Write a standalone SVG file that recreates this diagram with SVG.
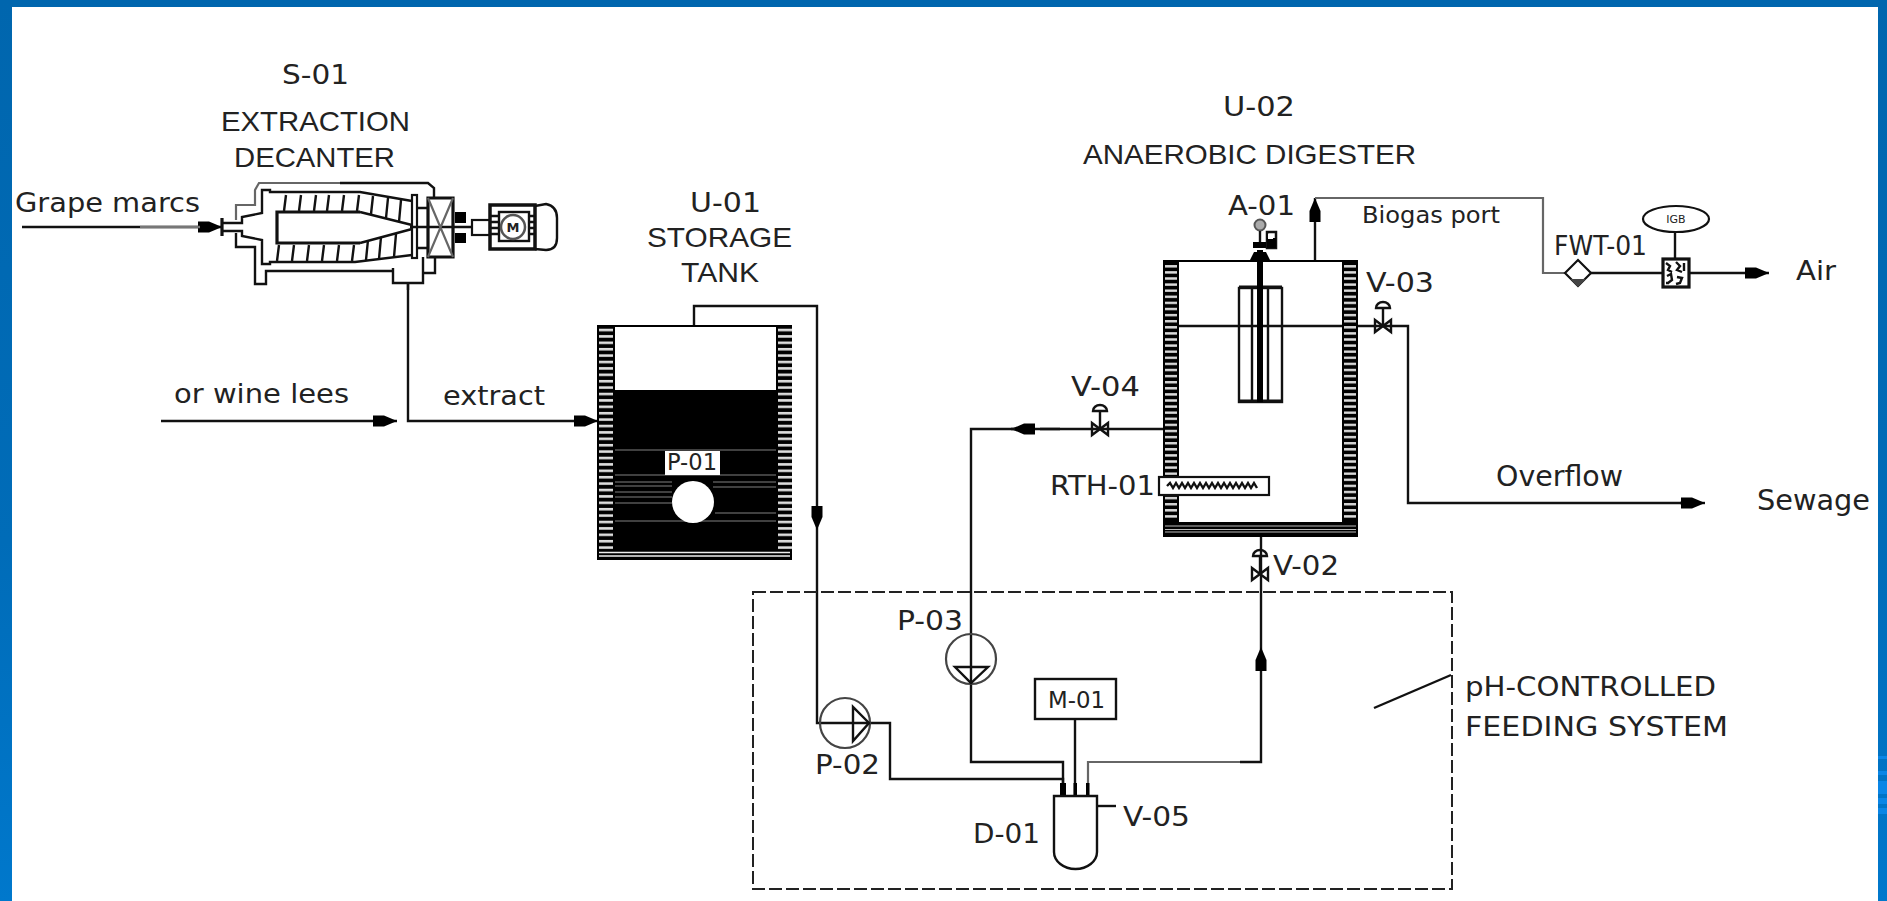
<svg xmlns="http://www.w3.org/2000/svg" width="1887" height="901" viewBox="0 0 1887 901">
<style>
text{fill:#222;font-family:"DejaVu Sans",Verdana,sans-serif}
.a{font-family:"Liberation Sans",Arial,sans-serif}
.t26{font-size:27px}.t24{font-size:26px}.t27{font-size:28px}
.l{fill:none;stroke:#111;stroke-width:2.4}
.h{fill:none;stroke:#111;stroke-width:3.2}
.g{fill:none;stroke:#666;stroke-width:2.2}
.w{fill:#fff;stroke:#111;stroke-width:2.2}
.k{fill:#000}
.ar{marker-end:url(#arrow)}
</style>
<defs>
<linearGradient id="bg" x1="0" y1="0" x2="0" y2="1"><stop offset="0" stop-color="#0066ae"/><stop offset="0.6" stop-color="#006cb8"/><stop offset="1" stop-color="#0078cc"/></linearGradient>
<pattern id="hatchA" width="14" height="6.4" patternUnits="userSpaceOnUse" y="0.5"><rect width="14" height="6.4" fill="#000"/><rect y="1.8" width="14" height="2.6" fill="#ddd"/></pattern>
<pattern id="hatchB" width="13" height="6.1" patternUnits="userSpaceOnUse" y="1"><rect width="13" height="6.1" fill="#000"/><rect y="1.8" width="13" height="2.4" fill="#ddd"/></pattern>
<marker id="arrow" markerUnits="userSpaceOnUse" markerWidth="24" markerHeight="14" refX="24" refY="7" orient="auto"><path d="M0,1.500 L11,1.500 L24,7 L11,12.500 L0,12.500 Z" fill="#000"/></marker>
<g id="valve-sym"><path class="l" d="M-8,-6 L8,6 L8,-6 L-8,6 Z"/><path class="l" d="M0,0 L0,-18 M-7,-18 A7,6 0 0 1 7,-18 Z"/></g>
</defs>
<rect width="1887" height="901" fill="url(#bg)"/>
<rect x="12" y="7" width="1866" height="894" fill="#fff"/>
<g id="band-streaks" fill="#0a86e6">
<rect x="1878" y="756" width="9" height="3"/><rect x="1878" y="771" width="9" height="4"/><rect x="1878" y="781" width="9" height="13"/><rect x="1878" y="798" width="9" height="6"/><rect x="1878" y="808" width="9" height="6"/>
</g>

<g id="connectors">
<path class="l ar" d="M22,227 L222,227"/>
<path d="M140,227 L200,227" stroke="#777" stroke-width="2.400" fill="none"/>
<path class="l" d="M408,283 L408,421 L580,421"/>
<path class="l ar" d="M575,421 L598,421"/>
<path class="l ar" d="M161,421 L397,421"/>
<path class="l ar" d="M694,325 L694,306 L817,306 L817,530"/>
<path class="l" d="M817,530 L817,723 L890,723 L890,779 L1063,779 L1063,795"/>
<path class="l" d="M1163,429 L1040,429"/>
<path class="l ar" d="M1060,429 L1011,429"/>
<path class="l" d="M1015,429 L971,429 L971,762 L1063,762 L1063,795"/>
<path class="l" d="M1075,719 L1075,795"/>
<path class="g" d="M1088,795 L1088,762 L1261,762"/>
<path class="l" d="M1240,762 L1261,762 L1261,700"/>
<path class="l ar" d="M1261,700 L1261,647"/>
<path class="l" d="M1261,647 L1261,537"/>
<path class="l ar" d="M1315,260 L1315,198"/>
<path class="g" d="M1315,198 L1543,198 L1543,273 L1565,273"/>
<path class="l" d="M1591,273 L1662,273"/>
<path class="l ar" d="M1690,273 L1769,273"/>
<path class="l" d="M1179,326 L1408,326 L1408,503 L1690,503"/>
<path class="l ar" d="M1680,503 L1705,503"/>
<path class="l" d="M1374,708 L1451,675"/>
<path class="l" d="M1097,806 L1116,806"/>
<rect class="k" x="1060" y="783" width="6" height="12"/><rect class="k" x="1073.500" y="783" width="3.500" height="12"/><rect class="k" x="1086" y="783" width="3.500" height="12"/>
</g>

<g id="S-01">
<text class="t26" x="282" y="84" textLength="67" lengthAdjust="spacingAndGlyphs">S-01</text>
<text class="a t27" x="221" y="131" textLength="189" lengthAdjust="spacingAndGlyphs">EXTRACTION</text>
<text class="a t27" x="234" y="167" textLength="161" lengthAdjust="spacingAndGlyphs">DECANTER</text>
<path class="g" d="M236,220 L236,205 L255,205 L255,190 L259,183 L340,183"/>
<path class="l" d="M340,183 L428,183 L434,188 L434,198"/>
<path class="l" d="M236,233 L236,247 L255,247 L255,284 L266,284 L266,271 L393,271"/>
<path class="l" d="M423,273 L435,273 L435,257"/>
<path class="l" d="M222,223 L242,223 L242,217 L262,213 L262,190 L270,190 L270,192 L360,192 L412,201"/>
<path class="l" d="M222,231 L242,231 L242,236 L262,240 L262,264 L270,264 L270,262 L355,262 L412,255"/>
<path class="h" d="M222,218 L222,236"/>
<path class="h" d="M360,212 L277,212 L277,243 L360,243"/>
<path class="l" d="M360,212 L412,225 M360,243 L412,229"/>
<path class="l" d="M286,195 L284,211 M301,195 L299,211 M316,195 L314,211 M329,195 L327,211 M344,195 L342,211 M359,195 L357,211 M373,196 L371,214 M388,198 L386,218 M401,200 L399,222"/>
<path class="l" d="M279,245 L277,261 M294,245 L292,261 M309,245 L307,261 M324,245 L322,261 M339,245 L337,261 M354,245 L352,261 M368,240 L366,260 M381,237 L379,259 M396,234 L394,257"/>
<rect class="w" x="412" y="195" width="5" height="63"/>
<path class="l" d="M417,208 L428,208 M417,248 L428,248 M410,227 L472,227"/>
<path class="l" d="M393,268 L393,283 L423,283 L423,257 M408,283 L408,290"/>
<path class="h" d="M428,198 L453,198 L453,257 L428,257 Z"/>
<path class="g" d="M428,198 L453,257 M453,198 L428,257"/>
<rect class="k" x="455" y="212" width="11" height="11"/><rect class="k" x="455" y="233" width="11" height="10"/>
<rect class="w" x="472" y="220" width="18" height="15"/>
<path class="l" d="M535,206 L546,204 Q557,206 557,218 L557,238 Q557,250 546,250 L535,249"/>
<rect x="490" y="205" width="45" height="44" fill="#fff" stroke="#111" stroke-width="3.500"/>
<rect class="l" x="499" y="212" width="30" height="29"/>
<path class="l" d="M491,216 L499,216 M491,222 L499,222 M491,228 L499,228 M491,234 L499,234 M529,216 L534,216 M529,222 L534,222 M529,228 L534,228 M529,234 L534,234"/>
<circle cx="513" cy="227" r="12" fill="#fff" stroke="#555" stroke-width="2.500"/>
<text x="513" y="232" font-size="13" text-anchor="middle" font-weight="bold">M</text>
</g>

<g id="feed-labels">
<text class="t24" x="15" y="212" textLength="185" lengthAdjust="spacingAndGlyphs">Grape marcs</text>
<text class="t24" x="174" y="403" textLength="175" lengthAdjust="spacingAndGlyphs">or wine lees</text>
<text class="t24" x="443" y="405" textLength="102" lengthAdjust="spacingAndGlyphs">extract</text>
</g>

<g id="U-01">
<text class="t26" x="690" y="212" textLength="71" lengthAdjust="spacingAndGlyphs">U-01</text>
<text class="a t27" x="647" y="247" textLength="145" lengthAdjust="spacingAndGlyphs">STORAGE</text>
<text class="a t27" x="681" y="282" textLength="78" lengthAdjust="spacingAndGlyphs">TANK</text>
<rect x="597" y="325" width="195" height="235" fill="#000"/>
<rect x="615" y="327" width="161" height="63" fill="#fff"/>
<rect x="599" y="327" width="14" height="223" fill="url(#hatchA)"/>
<rect x="778" y="327" width="14" height="223" fill="url(#hatchA)"/>
<path d="M599,552.500 H790 M599,556 H790" stroke="#eee" stroke-width="1.500"/>
<path d="M615,450 H776 M615,475 H776 M615,482 H672 M713,482 H776 M615,486 H672 M713,487 H776 M615,492 H672 M615,497 H672 M615,503 H672 M715,513 H776 M615,521 H776" stroke="#555" stroke-width="1.500"/>
<circle cx="693" cy="502" r="21" fill="#fff"/>
<rect x="665" y="451" width="55" height="24" fill="#fff"/>
<text x="667" y="470" font-size="23" textLength="50" lengthAdjust="spacingAndGlyphs">P-01</text>
</g>

<g id="U-02">
<text class="t26" x="1223" y="116" textLength="72" lengthAdjust="spacingAndGlyphs">U-02</text>
<text class="a t27" x="1083" y="164" textLength="333" lengthAdjust="spacingAndGlyphs">ANAEROBIC DIGESTER</text>
<text class="t26" x="1228" y="215" textLength="67" lengthAdjust="spacingAndGlyphs">A-01</text>
<path d="M1163,260 H1358 V537 H1163 Z M1179,262 V522 H1342 V262 Z" fill="#000" fill-rule="evenodd"/>
<rect x="1165" y="262" width="12" height="258" fill="url(#hatchB)"/>
<rect x="1344" y="262" width="12" height="258" fill="url(#hatchB)"/>
<path d="M1165,526 H1356 M1165,529.500 H1356 M1165,532 H1356" stroke="#bbb" stroke-width="1.200"/>
<rect class="l" x="1239" y="288" width="43" height="114"/>
<path class="h" d="M1239,287 H1282 M1239,401 H1282"/>
<path class="l" d="M1252,288 V402 M1268,288 V402"/>
<rect class="k" x="1257" y="250" width="6" height="152"/>
<path class="k" d="M1250,260 L1254,252 L1266,252 L1270,260 Z"/>
<circle cx="1260" cy="225" r="5.500" fill="#aaa" stroke="#555" stroke-width="2"/>
<path class="l" d="M1260,231 V245"/>
<rect x="1267" y="232" width="9" height="16" fill="#fff" stroke="#111" stroke-width="2.500"/>
<rect class="k" x="1253" y="242" width="13" height="6"/>
<rect class="k" x="1267" y="238" width="9" height="10"/>
<rect x="1268" y="234" width="5" height="5" fill="#fff"/>
</g>

<g id="RTH-01">
<text class="t26" x="1050" y="495" textLength="105" lengthAdjust="spacingAndGlyphs">RTH-01</text>
<rect class="w" x="1159" y="477" width="110" height="18"/>
<path class="l" d="M1167,486 l3,-3 3,5 3,-5 3,5 3,-5 3,5 3,-5 3,5 3,-5 3,5 3,-5 3,5 3,-5 3,5 3,-5 3,5 3,-5 3,5 3,-5 3,5 3,-5 3,5 3,-5 3,5 3,-5 3,5 3,-5 3,5 3,-5 3,5"/>
</g>

<g id="V-02">
<text class="t26" x="1273" y="575" textLength="66" lengthAdjust="spacingAndGlyphs">V-02</text>
<use href="#valve-sym" x="1260" y="574"/>
</g>
<g id="V-03">
<text class="t26" x="1366" y="292" textLength="68" lengthAdjust="spacingAndGlyphs">V-03</text>
<use href="#valve-sym" x="1383" y="326"/>
</g>
<g id="V-04">
<text class="t26" x="1071" y="396" textLength="69" lengthAdjust="spacingAndGlyphs">V-04</text>
<use href="#valve-sym" x="1100" y="429"/>
</g>
<g id="V-05">
<text class="t26" x="1123" y="826" textLength="67" lengthAdjust="spacingAndGlyphs">V-05</text>
</g>

<g id="FWT-01">
<text class="t24" x="1554" y="255" textLength="93" lengthAdjust="spacingAndGlyphs">FWT-01</text>
<path class="w" d="M1565,273 L1578,260 L1591,273 L1578,286 Z"/>
<path d="M1570,279 H1586 L1578,287 Z" fill="#444"/>
</g>
<g id="IGB">
<ellipse class="w" cx="1676" cy="219" rx="33" ry="13"/>
<text x="1676" y="223" font-size="11" text-anchor="middle">IGB</text>
<path class="l" d="M1675,232 V258"/>
<rect class="h" x="1663" y="259" width="26" height="28" fill="#fff"/>
<path class="l" d="M1666,263 l4,3 -2,4 4,2 M1676,262 l4,4 -3,4 5,2 M1667,276 l4,-2 1,6 -4,3 M1677,277 l5,1 -2,5 -4,1 M1684,263 v8 M1666,283 h3"/>
</g>
<g id="Biogas-port"><text x="1362" y="223" font-size="23" textLength="138" lengthAdjust="spacingAndGlyphs">Biogas port</text></g>
<g id="Air"><text class="t26" x="1796" y="280" textLength="40" lengthAdjust="spacingAndGlyphs">Air</text></g>
<g id="Overflow"><text class="t27" x="1496" y="486" textLength="127" lengthAdjust="spacingAndGlyphs">Overflow</text></g>
<g id="Sewage"><text class="t27" x="1757" y="510" textLength="113" lengthAdjust="spacingAndGlyphs">Sewage</text></g>

<g id="P-02">
<circle cx="845" cy="723" r="25" fill="none" stroke="#444" stroke-width="2.200"/>
<path class="l" d="M853,707 L853,741 L869,723 Z"/>
<text class="t26" x="815" y="774" textLength="65" lengthAdjust="spacingAndGlyphs">P-02</text>
</g>
<g id="P-03">
<circle cx="971" cy="659" r="25" fill="none" stroke="#444" stroke-width="2.200"/>
<path class="l" d="M955,667 L988,667 L971,683 Z"/>
<text class="t26" x="897" y="630" textLength="66" lengthAdjust="spacingAndGlyphs">P-03</text>
</g>
<g id="M-01">
<rect class="l" x="1035" y="679" width="81" height="40"/>
<text x="1048" y="708" font-size="23" textLength="57" lengthAdjust="spacingAndGlyphs">M-01</text>
</g>
<g id="D-01">
<path class="l" d="M1054,852 V796 H1097 V852 A21.500,17 0 0 1 1054,852 Z"/>
<text class="t26" x="973" y="843" textLength="67" lengthAdjust="spacingAndGlyphs">D-01</text>
</g>
<g id="feeding-system">
<rect x="753" y="592" width="699" height="297" fill="none" stroke="#222" stroke-width="2" stroke-dasharray="13 4"/>
<text class="t24" x="1465" y="696" textLength="251" lengthAdjust="spacingAndGlyphs">pH-CONTROLLED</text>
<text class="t24" x="1465" y="736" textLength="263" lengthAdjust="spacingAndGlyphs">FEEDING SYSTEM</text>
</g>
</svg>
